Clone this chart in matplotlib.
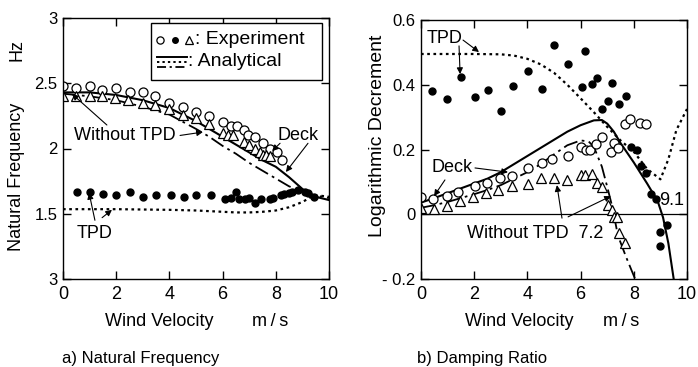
import matplotlib
matplotlib.use("Agg")
import matplotlib.pyplot as plt
from matplotlib.lines import Line2D

plt.rcParams['font.family'] = ['Liberation Sans', 'DejaVu Sans']

# ---------------- data: a) natural frequency ----------------
deck_exp_v = [0, 0.5, 1.0, 1.45, 2.0, 2.5, 3.0, 3.45, 4.0, 4.5, 5.0, 5.5, 6.0, 6.3, 6.55, 6.8, 6.95, 7.2, 7.5, 7.8, 8.05, 8.25]
deck_exp_f = [2.48, 2.46, 2.48, 2.45, 2.46, 2.43, 2.43, 2.40, 2.35, 2.32, 2.28, 2.25, 2.20, 2.17, 2.17, 2.14, 2.10, 2.09, 2.04, 2.00, 1.97, 1.91]

notpd_exp_v = [0, 0.5, 1.0, 1.45, 1.95, 2.45, 3.0, 3.45, 4.0, 4.5, 5.0, 5.5, 6.0, 6.2, 6.4, 6.8, 7.0, 7.2, 7.4, 7.5, 7.65, 7.8]
notpd_exp_f = [2.40, 2.40, 2.40, 2.40, 2.39, 2.37, 2.35, 2.33, 2.30, 2.26, 2.23, 2.19, 2.12, 2.10, 2.10, 2.05, 2.03, 2.00, 1.97, 1.95, 1.95, 1.94]

tpd_exp_v = [0.53, 1.0, 1.5, 2.0, 2.5, 3.0, 3.5, 4.05, 4.55, 5.0, 5.55, 6.1, 6.3, 6.5, 6.6, 6.85, 7.0, 7.2, 7.45, 7.8, 7.9, 8.2, 8.3, 8.5, 8.6, 8.85, 9.1, 9.2, 9.45]
tpd_exp_f = [1.67, 1.67, 1.65, 1.64, 1.67, 1.63, 1.64, 1.64, 1.63, 1.64, 1.64, 1.61, 1.62, 1.67, 1.61, 1.61, 1.62, 1.58, 1.61, 1.61, 1.62, 1.64, 1.65, 1.66, 1.67, 1.68, 1.67, 1.66, 1.63]

ana_v = [0, 1, 2, 3, 4, 5, 5.5, 6, 6.5, 7, 7.5, 8, 8.5, 9, 9.5, 10]
deck_ana_f = [2.43, 2.43, 2.41, 2.37, 2.31, 2.21, 2.15, 2.09, 2.03, 1.97, 1.91, 1.86, 1.78, 1.69, 1.63, 1.605]
notpd_ana_f = [2.42, 2.40, 2.37, 2.32, 2.26, 2.15, 2.09, 2.02, 1.96, 1.89, 1.83, 1.77, 1.71, 1.67, 1.64, 1.62]

tpd_ana_v = [0, 2, 4, 5, 6, 6.5, 7, 7.5, 8, 8.5, 9, 9.3, 9.6, 10]
tpd_ana_f = [1.535, 1.535, 1.53, 1.525, 1.515, 1.51, 1.51, 1.515, 1.525, 1.55, 1.59, 1.625, 1.64, 1.63]

# ---------------- data: b) damping ----------------
tpd_d_v = [0.43, 0.97, 1.49, 2.02, 2.53, 3.0, 3.47, 4.02, 4.56, 5.0, 5.53, 6.06, 6.17, 6.44, 6.63, 6.82, 7.04, 7.19, 7.44, 7.70, 7.88, 8.13, 8.26, 8.44, 8.63, 8.85, 9.26, 9.0, 9.0]
tpd_d = [0.382, 0.355, 0.423, 0.363, 0.384, 0.320, 0.396, 0.443, 0.386, 0.523, 0.464, 0.392, 0.505, 0.401, 0.420, 0.324, 0.351, 0.404, 0.341, 0.365, 0.209, 0.200, 0.149, 0.127, 0.063, 0.047, -0.032, -0.056, -0.097]

deck_d_v = [0, 0.46, 0.96, 1.40, 2.03, 2.47, 2.97, 3.43, 4.01, 4.54, 4.91, 5.53, 6.03, 6.22, 6.34, 6.59, 6.79, 7.13, 7.26, 7.42, 7.67, 7.85, 8.23, 8.45]
deck_d = [0.052, 0.046, 0.056, 0.070, 0.087, 0.097, 0.111, 0.119, 0.142, 0.159, 0.170, 0.180, 0.209, 0.198, 0.198, 0.217, 0.240, 0.193, 0.219, 0.204, 0.279, 0.293, 0.281, 0.279]

notpd_d_v = [0, 0.5, 0.97, 1.47, 1.97, 2.44, 2.91, 3.43, 4.01, 4.51, 5.0, 5.48, 6.0, 6.17, 6.42, 6.6, 6.79, 7.04, 7.17, 7.26, 7.38, 7.46, 7.67]
notpd_d = [0.018, 0.015, 0.025, 0.042, 0.052, 0.065, 0.075, 0.087, 0.093, 0.111, 0.111, 0.106, 0.121, 0.121, 0.124, 0.097, 0.083, 0.029, 0.013, -0.009, -0.009, -0.057, -0.090]

deck_ana_d_v = [0, 0.5, 1, 1.5, 2, 2.5, 3, 3.5, 4, 4.5, 5, 5.5, 6, 6.5, 6.8, 7.0, 7.25, 7.5, 8.0, 8.5, 8.9, 9.1, 9.3, 9.5]
deck_ana_d = [0.036, 0.05, 0.065, 0.08, 0.095, 0.11, 0.13, 0.155, 0.18, 0.205, 0.23, 0.255, 0.275, 0.29, 0.291, 0.28, 0.255, 0.22, 0.16, 0.095, 0.04, -0.01, -0.09, -0.2]

notpd_ana_d_v = [0, 0.5, 1, 1.5, 2, 2.5, 3, 3.5, 4, 4.5, 5, 5.5, 6, 6.3, 6.5, 6.8, 7.0, 7.2, 7.4, 7.7, 8.05]
notpd_ana_d = [0.02, 0.028, 0.038, 0.05, 0.062, 0.075, 0.09, 0.11, 0.13, 0.155, 0.185, 0.213, 0.228, 0.225, 0.208, 0.147, 0.085, 0.02, -0.065, -0.13, -0.2]

tpd_ana_d_v = [0, 1, 2, 3, 3.5, 4, 4.5, 5, 5.5, 6, 6.5, 7, 7.5, 8, 8.5, 9.0, 9.3, 9.6, 10]
tpd_ana_d = [0.495, 0.495, 0.495, 0.494, 0.49, 0.48, 0.463, 0.437, 0.40, 0.358, 0.315, 0.27, 0.228, 0.193, 0.14, 0.108, 0.17, 0.26, 0.325]

W, H = 698, 367
fig = plt.figure(figsize=(W / 100, H / 100), dpi=100)

def px(x, y):
    return x / W, 1 - y / H

ax1 = fig.add_axes([63 / W, 1 - 279 / H, 266 / W, 261 / H])
ax2 = fig.add_axes([421 / W, 1 - 279 / H, 266 / W, 259 / H])

DASHDOT = (0, (8, 2.5, 1.5, 2.5))
DOT = (0, (1.2, 1.6))

circ = dict(marker='o', ms=6.5, mfc='white', mec='black', mew=0.9, ls='none')
dot = dict(marker='o', ms=5, mfc='black', mec='black', ls='none')
tri = dict(marker='^', ms=6.5, mfc='white', mec='black', mew=0.9, ls='none')

for ax in (ax1, ax2):
    for s in ax.spines.values():
        s.set_linewidth(1.0)
    ax.tick_params(direction='in', top=True, right=True, length=6, width=1.0)
    ax.tick_params(axis='x', labelsize=13, pad=5)
    ax.tick_params(axis='y', labelsize=12, pad=4)
    ax.set_xlim(0, 10)
    ax.set_xticks([0, 2, 4, 6, 8, 10])

# ---- panel a ----
ax1.set_ylim(1, 3)
ax1.set_yticks([1, 1.5, 2, 2.5, 3])
ax1.set_yticklabels(['3', '1.5', '2', '2.5', '3'])
ax1.plot(ana_v, deck_ana_f, color='black', lw=1.5)
ax1.plot(ana_v, notpd_ana_f, color='black', lw=1.3, ls=DASHDOT)
ax1.plot(tpd_ana_v, tpd_ana_f, color='black', lw=1.6, ls=DOT)
ax1.plot(deck_exp_v, deck_exp_f, **circ)
ax1.plot(notpd_exp_v, notpd_exp_f, **tri)
ax1.plot(tpd_exp_v, tpd_exp_f, **dot)

# legend box
ax1.add_patch(plt.Rectangle((0.330, 0.762), 0.643, 0.218, transform=ax1.transAxes,
                            fill=True, fc='white', ec='black', lw=1.0, zorder=5))
for xx, st in ((0.365, circ), (0.422, dot), (0.472, tri)):
    ax1.add_line(Line2D([xx], [0.916], transform=ax1.transAxes, zorder=6,
                        **{**st, 'ms': st['ms'] * 0.8}))
ax1.text(0.495, 0.916, ': Experiment', transform=ax1.transAxes, fontsize=14,
         va='center', ha='left', zorder=6)
ax1.add_line(Line2D([0.353, 0.465], [0.852, 0.852], transform=ax1.transAxes, color='black', lw=1.4, zorder=6))
ax1.add_line(Line2D([0.353, 0.465], [0.833, 0.833], transform=ax1.transAxes, color='black', lw=1.4, ls=DOT, zorder=6))
ax1.add_line(Line2D([0.353, 0.465], [0.812, 0.812], transform=ax1.transAxes, color='black', lw=1.3, ls=(0, (5, 2, 1.2, 2)), zorder=6))
ax1.text(0.470, 0.835, ': Analytical', transform=ax1.transAxes, fontsize=14,
         va='center', ha='left', zorder=6)

arr = dict(arrowstyle='-|>', color='black', lw=0.8, mutation_scale=9, shrinkA=0, shrinkB=0)
ax1.text(2.31, 2.10, 'Without TPD', fontsize=13, ha='center', va='center')
ax1.annotate('', xy=(0.34, 2.418), xytext=(1.65, 2.18), arrowprops=arr)
ax1.annotate('', xy=(5.26, 2.126), xytext=(4.40, 2.10), arrowprops=arr)
ax1.text(8.83, 2.10, 'Deck', fontsize=13, ha='center', va='center')
ax1.annotate('', xy=(7.86, 1.98), xytext=(8.16, 2.04), arrowprops=arr)
ax1.annotate('', xy=(8.38, 1.82), xytext=(9.21, 2.04), arrowprops=arr)
ax1.text(1.2, 1.345, 'TPD', fontsize=13, ha='center', va='center')
ax1.annotate('', xy=(0.98, 1.66), xytext=(1.2, 1.45), arrowprops=arr)
ax1.annotate('', xy=(1.84, 1.53), xytext=(1.47, 1.47), arrowprops=arr)

# ---- panel b ----
ax2.set_ylim(-0.2, 0.6)
ax2.set_yticks([-0.2, 0, 0.2, 0.4, 0.6])
ax2.set_yticklabels(['- 0.2', '0', '0.2', '0.4', '0.6'])
ax2.axhline(0, color='black', lw=0.9)
ax2.plot(deck_ana_d_v, deck_ana_d, color='black', lw=1.5)
ax2.plot(notpd_ana_d_v, notpd_ana_d, color='black', lw=1.3, ls=DASHDOT)
ax2.plot(tpd_ana_d_v, tpd_ana_d, color='black', lw=1.6, ls=DOT)
ax2.plot(deck_d_v, deck_d, **circ)
ax2.plot(notpd_d_v, notpd_d, **tri)
ax2.plot(tpd_d_v, tpd_d, **dot)

ax2.text(0.90, 0.544, 'TPD', fontsize=13, ha='center', va='center')
ax2.annotate('', xy=(2.18, 0.501), xytext=(1.58, 0.538), arrowprops=arr)
ax2.annotate('', xy=(1.47, 0.433), xytext=(1.43, 0.520), arrowprops=arr)
ax2.text(1.17, 0.143, 'Deck', fontsize=13, ha='center', va='center')
ax2.annotate('', xy=(3.27, 0.130), xytext=(2.03, 0.143), arrowprops=arr)
ax2.annotate('', xy=(0.49, 0.056), xytext=(0.90, 0.106), arrowprops=arr)
ax2.text(4.29, -0.061, 'Without TPD  7.2', fontsize=13, ha='center', va='center')
ax2.annotate('', xy=(5.11, 0.090), xytext=(5.30, -0.012), arrowprops=arr)
ax2.annotate('', xy=(7.14, 0.056), xytext=(5.53, -0.008), arrowprops=arr)
ax2.text(9.44, 0.041, '9.1', fontsize=13, ha='center', va='center')

# ---- labels ----
fig.text(*px(17, 50), 'Hz', rotation=90, fontsize=13, ha='center', va='center')
fig.text(*px(17, 177), 'Natural Frequency', rotation=90, fontsize=13, ha='center', va='center')
fig.text(*px(378, 136), 'Logarithmic Decrement', rotation=90, fontsize=14, ha='center', va='center')
for cx, mx in ((159, 270), (519, 621)):
    fig.text(*px(cx, 322), 'Wind Velocity', fontsize=13, ha='center', va='center')
    fig.text(*px(mx, 322), 'm\u2009/\u2009s', fontsize=13, ha='center', va='center')
fig.text(*px(62, 359), 'a) Natural Frequency', fontsize=12, ha='left', va='center')
fig.text(*px(417, 359), 'b) Damping Ratio', fontsize=12, ha='left', va='center')

fig.savefig('out.png', dpi=100)
